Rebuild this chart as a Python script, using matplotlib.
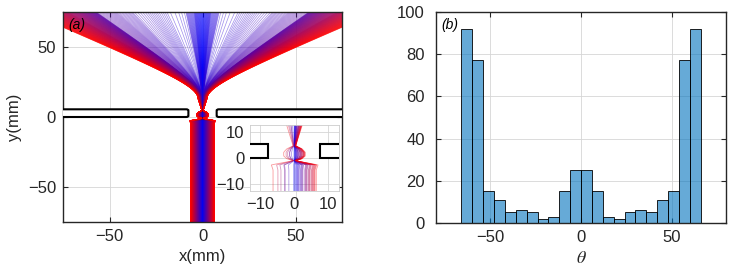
import numpy as np
import matplotlib.pyplot as plt
from matplotlib.collections import LineCollection
from matplotlib.patches import FancyBboxPatch, Rectangle

plt.rcParams['font.family'] = ['Liberation Sans', 'DejaVu Sans']
plt.rcParams['mathtext.fontset'] = 'stix'

# ---- data ----
# (b) histogram of exit angle theta (deg)
theta_edges = [-66, -60, -54, -48, -42, -36, -30, -24, -18, -12, -6, 0,
               6, 12, 18, 24, 30, 36, 42, 48, 54, 60, 66]
theta_counts = [92, 77, 15, 11, 5, 6, 5, 2, 3, 15, 25,
                25, 15, 3, 2, 5, 6, 5, 11, 15, 77, 92]

# (a) beam / slit geometry (mm)
beam_half = 6.5
slit_half = 7.6
plate_top = 5.5
# neck profile: height y and fraction of initial offset kept there
neck_y = [-75, -4.5, -2.6, -1.0, -0.3, 0.8, 2.2, 3.5, 4.6, 13]
neck_s = [1.0, 1.0, 1.08, 0.04, 0.35, 0.5, 0.5, 0.35, 0.06, 0.38]
fan_y0 = 13
fan_c = 12
fan_k = 0.8

# one trajectory per histogram entry, angle spread inside its bin
angles = []
for lo, hi, n in zip(theta_edges[:-1], theta_edges[1:], theta_counts):
    angles.extend(lo + (np.arange(n) + 0.5) * (hi - lo) / n)
angles = np.sort(np.array(angles))
x0 = np.linspace(-beam_half, beam_half, len(angles))

y_low = np.linspace(-75, fan_y0, 260)
y_fan = np.linspace(fan_y0, 80, 120)
g = np.sqrt((y_fan - fan_y0) ** 2 + fan_c ** 2) - fan_c

paths, cols = [], []
for xi, th in zip(x0, angles):
    xl = xi * np.interp(y_low, neck_y, neck_s)
    xf = xi * neck_s[-1] + np.tan(np.radians(th)) * fan_k * g
    paths.append(np.column_stack([np.r_[xl, xf], np.r_[y_low, y_fan]]))
    t = abs(xi) / beam_half
    cols.append((t, 0.0, 1 - t))
order = np.argsort([c[0] for c in cols])
paths = [paths[i] for i in order]
cols = [cols[i] for i in order]

fig = plt.figure(figsize=(7.37, 2.77), dpi=100)
ax = fig.add_axes([0.0855, 0.1986, 0.3786, 0.758])
ax2 = fig.add_axes([0.5916, 0.195, 0.3935, 0.762])
axi = fig.add_axes([0.3392, 0.3105, 0.1204, 0.238])

dark = '#262626'


def style(a, size=12):
    a.grid(True, color='#d6d6d6', lw=0.6)
    a.set_axisbelow(True)
    a.tick_params(direction='in', length=3.5, top=True, right=True,
                  labelsize=size, colors=dark, pad=5)
    for s in a.spines.values():
        s.set_color(dark)
        s.set_linewidth(1.0)


# ---- (a) ----
ax.add_collection(LineCollection(paths, colors=cols, linewidths=0.5, alpha=0.45))
for xa, w in [(-90, 90 - slit_half), (slit_half, 90 - slit_half)]:
    ax.add_patch(FancyBboxPatch((xa, 0), w, plate_top,
                                boxstyle='round,pad=0,rounding_size=1.2',
                                mutation_aspect=0.75, fc='white', ec='black',
                                lw=1.5, zorder=3))
ax.set_xlim(-75, 75)
ax.set_ylim(-75, 75)
ax.set_xticks([-50, 0, 50])
ax.set_yticks([-50, 0, 50])
style(ax)
ax.set_xlabel('x(mm)', fontsize=12, color=dark, labelpad=4)
ax.set_ylabel('y(mm)', fontsize=12, color=dark, labelpad=4)
ax.text(0.05, 0.94, '(a)', transform=ax.transAxes, fontsize=10,
        style='italic', ha='center', va='center', zorder=5)

# inset
axi.add_collection(LineCollection(paths[::14], colors=cols[::14],
                                  linewidths=0.6, alpha=0.4))
for xa in [-30, slit_half]:
    axi.add_patch(Rectangle((xa, 0), 30 - slit_half, plate_top, fc='white',
                            ec='black', lw=1.5, zorder=3))
axi.set_xlim(-13, 13)
axi.set_ylim(-12.5, 12.5)
axi.set_xticks([-10, 0, 10])
axi.set_yticks([-10, 0, 10])
style(axi)
for s in axi.spines.values():
    s.set_color('#cccccc')
    s.set_linewidth(0.6)
axi.tick_params(top=False, right=False, length=0, pad=4)

# ---- (b) ----
left = theta_edges[:-1]
widths = np.diff(theta_edges)
ax2.bar(left, theta_counts, width=widths, align='edge',
        color=(0.0, 0.447, 0.741, 0.6), edgecolor='black', linewidth=0.6)
ax2.set_xlim(-80, 80)
ax2.set_ylim(0, 100)
ax2.set_xticks([-50, 0, 50])
ax2.set_yticks([0, 20, 40, 60, 80, 100])
style(ax2)
ax2.tick_params(axis='y', pad=8)
ax2.set_xlabel(r'$\theta$', fontsize=13, color=dark, labelpad=4)
ax2.text(0.048, 0.938, '(b)', transform=ax2.transAxes, fontsize=10,
         style='italic', ha='center', va='center')

fig.savefig('out.png', dpi=100)
